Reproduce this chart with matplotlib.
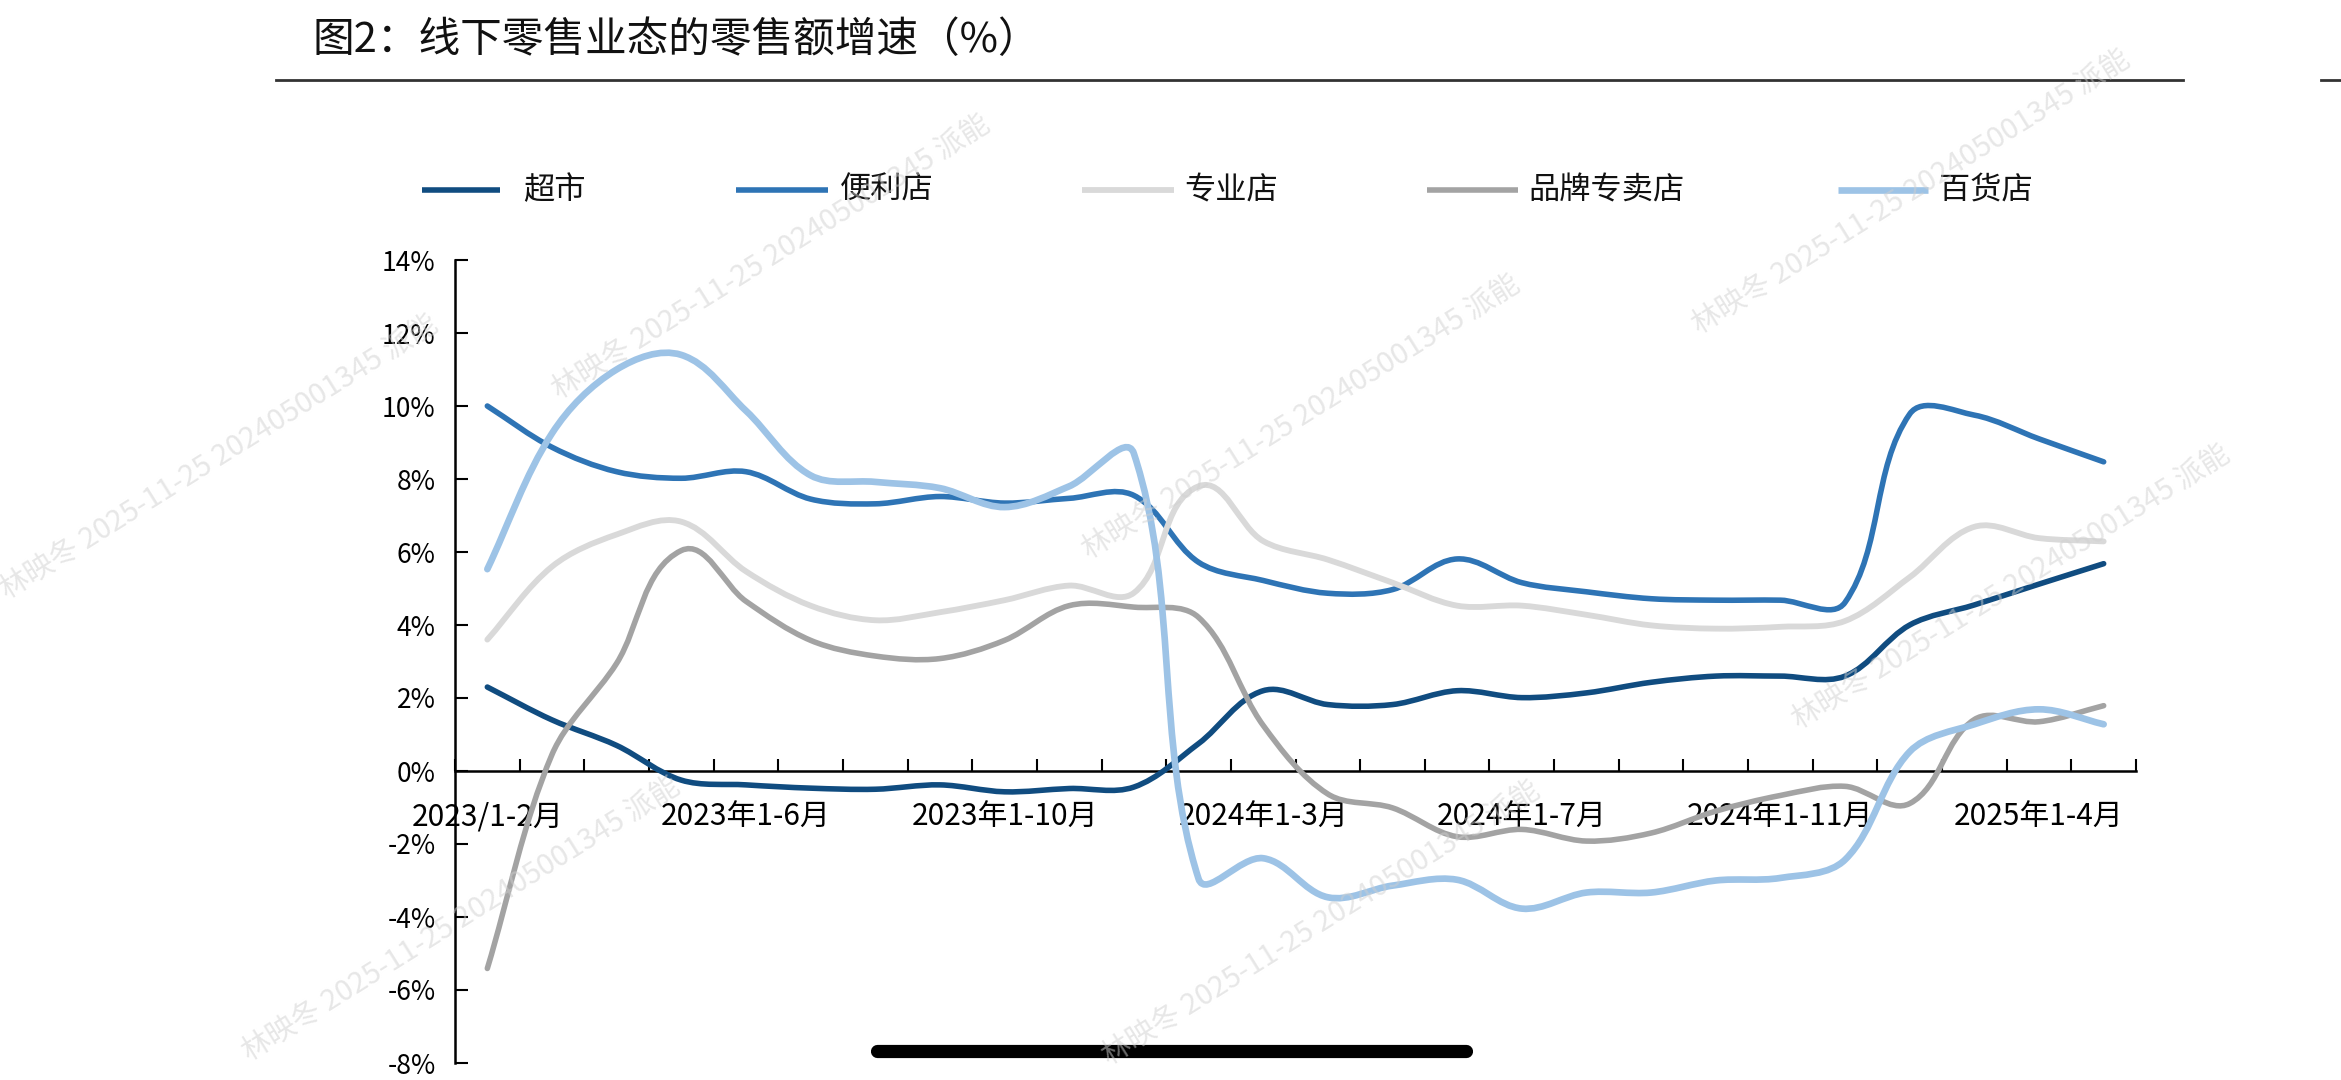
import numpy as np
import matplotlib
matplotlib.use("Agg")
import matplotlib.pyplot as plt
from matplotlib.path import Path
from matplotlib.patches import PathPatch
from matplotlib.lines import Line2D
from matplotlib.ticker import NullFormatter

plt.rcParams['font.family'] = ['Noto Sans CJK SC', 'DejaVu Sans']
plt.rcParams['axes.unicode_minus'] = False

# ---------------- data ----------------
categories = [
    '2023/1-2月', '2023年1-3月', '2023年1-4月', '2023年1-5月', '2023年1-6月',
    '2023年1-7月', '2023年1-8月', '2023年1-9月', '2023年1-10月', '2023年1-11月',
    '2023年1-12月', '2024年1-2月', '2024年1-3月', '2024年1-4月', '2024年1-5月',
    '2024年1-6月', '2024年1-7月', '2024年1-8月', '2024年1-9月', '2024年1-10月',
    '2024年1-11月', '2024年1-12月', '2025年1-2月', '2025年1-3月', '2025年1-4月',
    '2025年1-5月',
]
label_every = 4

supermarket = [2.3, 1.4, 0.7, -0.25, -0.38, -0.47, -0.5, -0.38, -0.57, -0.48, -0.44,
               0.75, 2.2, 1.82, 1.82, 2.2, 2.01, 2.14, 2.43, 2.6, 2.6, 2.6,
               4.0, 4.55, 5.12, 5.68]
convenience = [10.0, 8.87, 8.2, 8.02, 8.2, 7.45, 7.32, 7.52, 7.34, 7.47, 7.55,
               5.72, 5.22, 4.87, 4.97, 5.81, 5.16, 4.91, 4.72, 4.68, 4.68, 4.62,
               9.78, 9.75, 9.1, 8.47]
specialty = [3.6, 5.6, 6.48, 6.83, 5.47, 4.53, 4.13, 4.35, 4.68, 5.08, 4.88,
             7.8, 6.3, 5.79, 5.16, 4.53, 4.53, 4.28, 3.99, 3.9, 3.95, 4.11,
             5.31, 6.69, 6.38, 6.29]
brand = [-5.41, 0.45, 2.95, 6.04, 4.65, 3.58, 3.15, 3.08, 3.58, 4.53, 4.49,
         4.21, 1.25, -0.63, -1.01, -1.8, -1.6, -1.92, -1.7, -1.1, -0.67, -0.42,
         -0.89, 1.41, 1.35, 1.79]
department = [5.53, 9.25, 11.0, 11.4, 9.87, 8.1, 7.92, 7.75, 7.23, 7.8, 8.7,
              -2.95, -2.39, -3.46, -3.14, -2.98, -3.77, -3.33, -3.33, -3.0,
              -2.93, -2.43, 0.53, 1.28, 1.69, 1.28]

series_names = ['超市', '便利店', '专业店', '品牌专卖店', '百货店']
series_values = [supermarket, convenience, specialty, brand, department]
series_colors = ['#104C80', '#2E74B5', '#D9D9D9', '#A3A3A3', '#9DC3E6']
series_widths = [4.0, 4.0, 4.2, 4.0, 4.8]

title = '图2：线下零售业态的零售额增速（%）'
watermark = '林映冬 2025-11-25 202405001345 派能'

# ---------------- layout ----------------
W, H = 2341, 1080
fig = plt.figure(figsize=(W / 100, H / 100), dpi=100)
fig.patch.set_facecolor('white')

ax_l, ax_r, ax_t, ax_b = 455, 2136, 260, 1063
ax = fig.add_axes([ax_l / W, 1 - ax_b / H, (ax_r - ax_l) / W, (ax_b - ax_t) / H])
ax.set_facecolor('none')
n = len(categories)
ax.set_xlim(-0.5, n - 0.5)
ax.set_ylim(-8, 14)

# pixel scale of one data unit (for screen-space smoothing like Excel)
sx = (ax_r - ax_l) / n
sy = (ax_b - ax_t) / 22.0


def smooth_path(xs, ys, k=1.0 / 3.0):
    P = np.column_stack([np.asarray(xs, float) * sx, np.asarray(ys, float) * sy])
    m = len(P)
    verts = [P[0]]
    codes = [Path.MOVETO]
    for i in range(m - 1):
        p0 = P[i - 1] if i > 0 else P[i]
        p1 = P[i]
        p2 = P[i + 1]
        p3 = P[i + 2] if i + 2 < m else P[i + 1]
        d12 = np.linalg.norm(p2 - p1)
        t1 = p2 - p0
        t1 = t1 / np.linalg.norm(t1)
        t2 = p3 - p1
        t2 = t2 / np.linalg.norm(t2)
        c1 = p1 + t1 * d12 * k
        c2 = p2 - t2 * d12 * k
        verts += [c1, c2, p2]
        codes += [Path.CURVE4] * 3
    V = np.array(verts)
    V[:, 0] /= sx
    V[:, 1] /= sy
    return Path(V, codes)


x = np.arange(n)
for name, vals, col, lw in zip(series_names, series_values, series_colors, series_widths):
    patch = PathPatch(smooth_path(x, vals), facecolor='none', edgecolor=col,
                      linewidth=lw, capstyle='round', joinstyle='round', zorder=3)
    ax.add_patch(patch)

# axes styling
for s in ['top', 'right']:
    ax.spines[s].set_visible(False)
ax.spines['left'].set_linewidth(1.8)
ax.spines['bottom'].set_linewidth(1.8)
ax.spines['bottom'].set_position(('data', 0))
ax.spines['left'].set_color('black')
ax.spines['bottom'].set_color('black')

yt = np.arange(-8, 15, 2)
ax.set_yticks(yt)
ax.set_yticklabels([f'{v}%' for v in yt])
ax.tick_params(axis='y', direction='in', length=9, width=1.5, pad=14,
               labelsize=19, colors='black')

ax.set_xticks(np.arange(-0.5, n, 1.0))
ax.xaxis.set_major_formatter(NullFormatter())
lab_idx = list(range(0, n, label_every))
ax.set_xticks(lab_idx, minor=True)
ax.set_xticklabels([categories[i] for i in lab_idx], minor=True)
ax.tick_params(axis='x', which='major', direction='in', length=9, width=1.5)
ax.tick_params(axis='x', which='minor', length=0, pad=22, labelsize=21.5,
               colors='black')

# ---------------- title + rule ----------------
fig.text(313 / W, 1 - 40 / H, title, fontsize=30, ha='left', va='center',
         color='#111111')
fig.add_artist(Line2D([276 / W, 2183 / W], [1 - 80 / H] * 2, color='#333333',
                      linewidth=2.0, transform=fig.transFigure))
fig.add_artist(Line2D([2321 / W, 1.0], [1 - 80 / H] * 2, color='#333333',
                      linewidth=2.0, transform=fig.transFigure))

# ---------------- legend ----------------
leg_y = 1 - 190 / H
leg_lines = [(422, 500, 523), (736, 828, 840), (1082, 1174, 1184),
             (1427, 1518, 1528), (1838, 1928, 1939)]
for (x0, x1, xt), name, col, lw in zip(leg_lines, series_names, series_colors,
                                       series_widths):
    fig.add_artist(Line2D([x0 / W, x1 / W], [leg_y, leg_y], color=col,
                          linewidth=lw, solid_capstyle='butt',
                          transform=fig.transFigure))
    fig.text(xt / W, leg_y, name, fontsize=22.5, ha='left', va='center',
             color='#111111')

# ---------------- watermarks (kept inside the frame) ----------------
wm_pos = [(560, 400), (1090, 560), (1800, 730), (250, 1062), (1110, 1066),
          (8, 600), (1700, 335)]
for (px, py) in wm_pos:
    fig.text(px / W, 1 - py / H, watermark, fontsize=21, rotation=32,
             rotation_mode='anchor', ha='left', va='baseline',
             color='#cfcfcf', alpha=0.5, zorder=5)

# ---------------- screenshot home indicator ----------------
fig.add_artist(Line2D([877 / W, 1466 / W], [1 - 1051 / H] * 2, color='black',
                      linewidth=9.5, solid_capstyle='round',
                      transform=fig.transFigure))

fig.savefig('out.png', dpi=100, facecolor='white')
